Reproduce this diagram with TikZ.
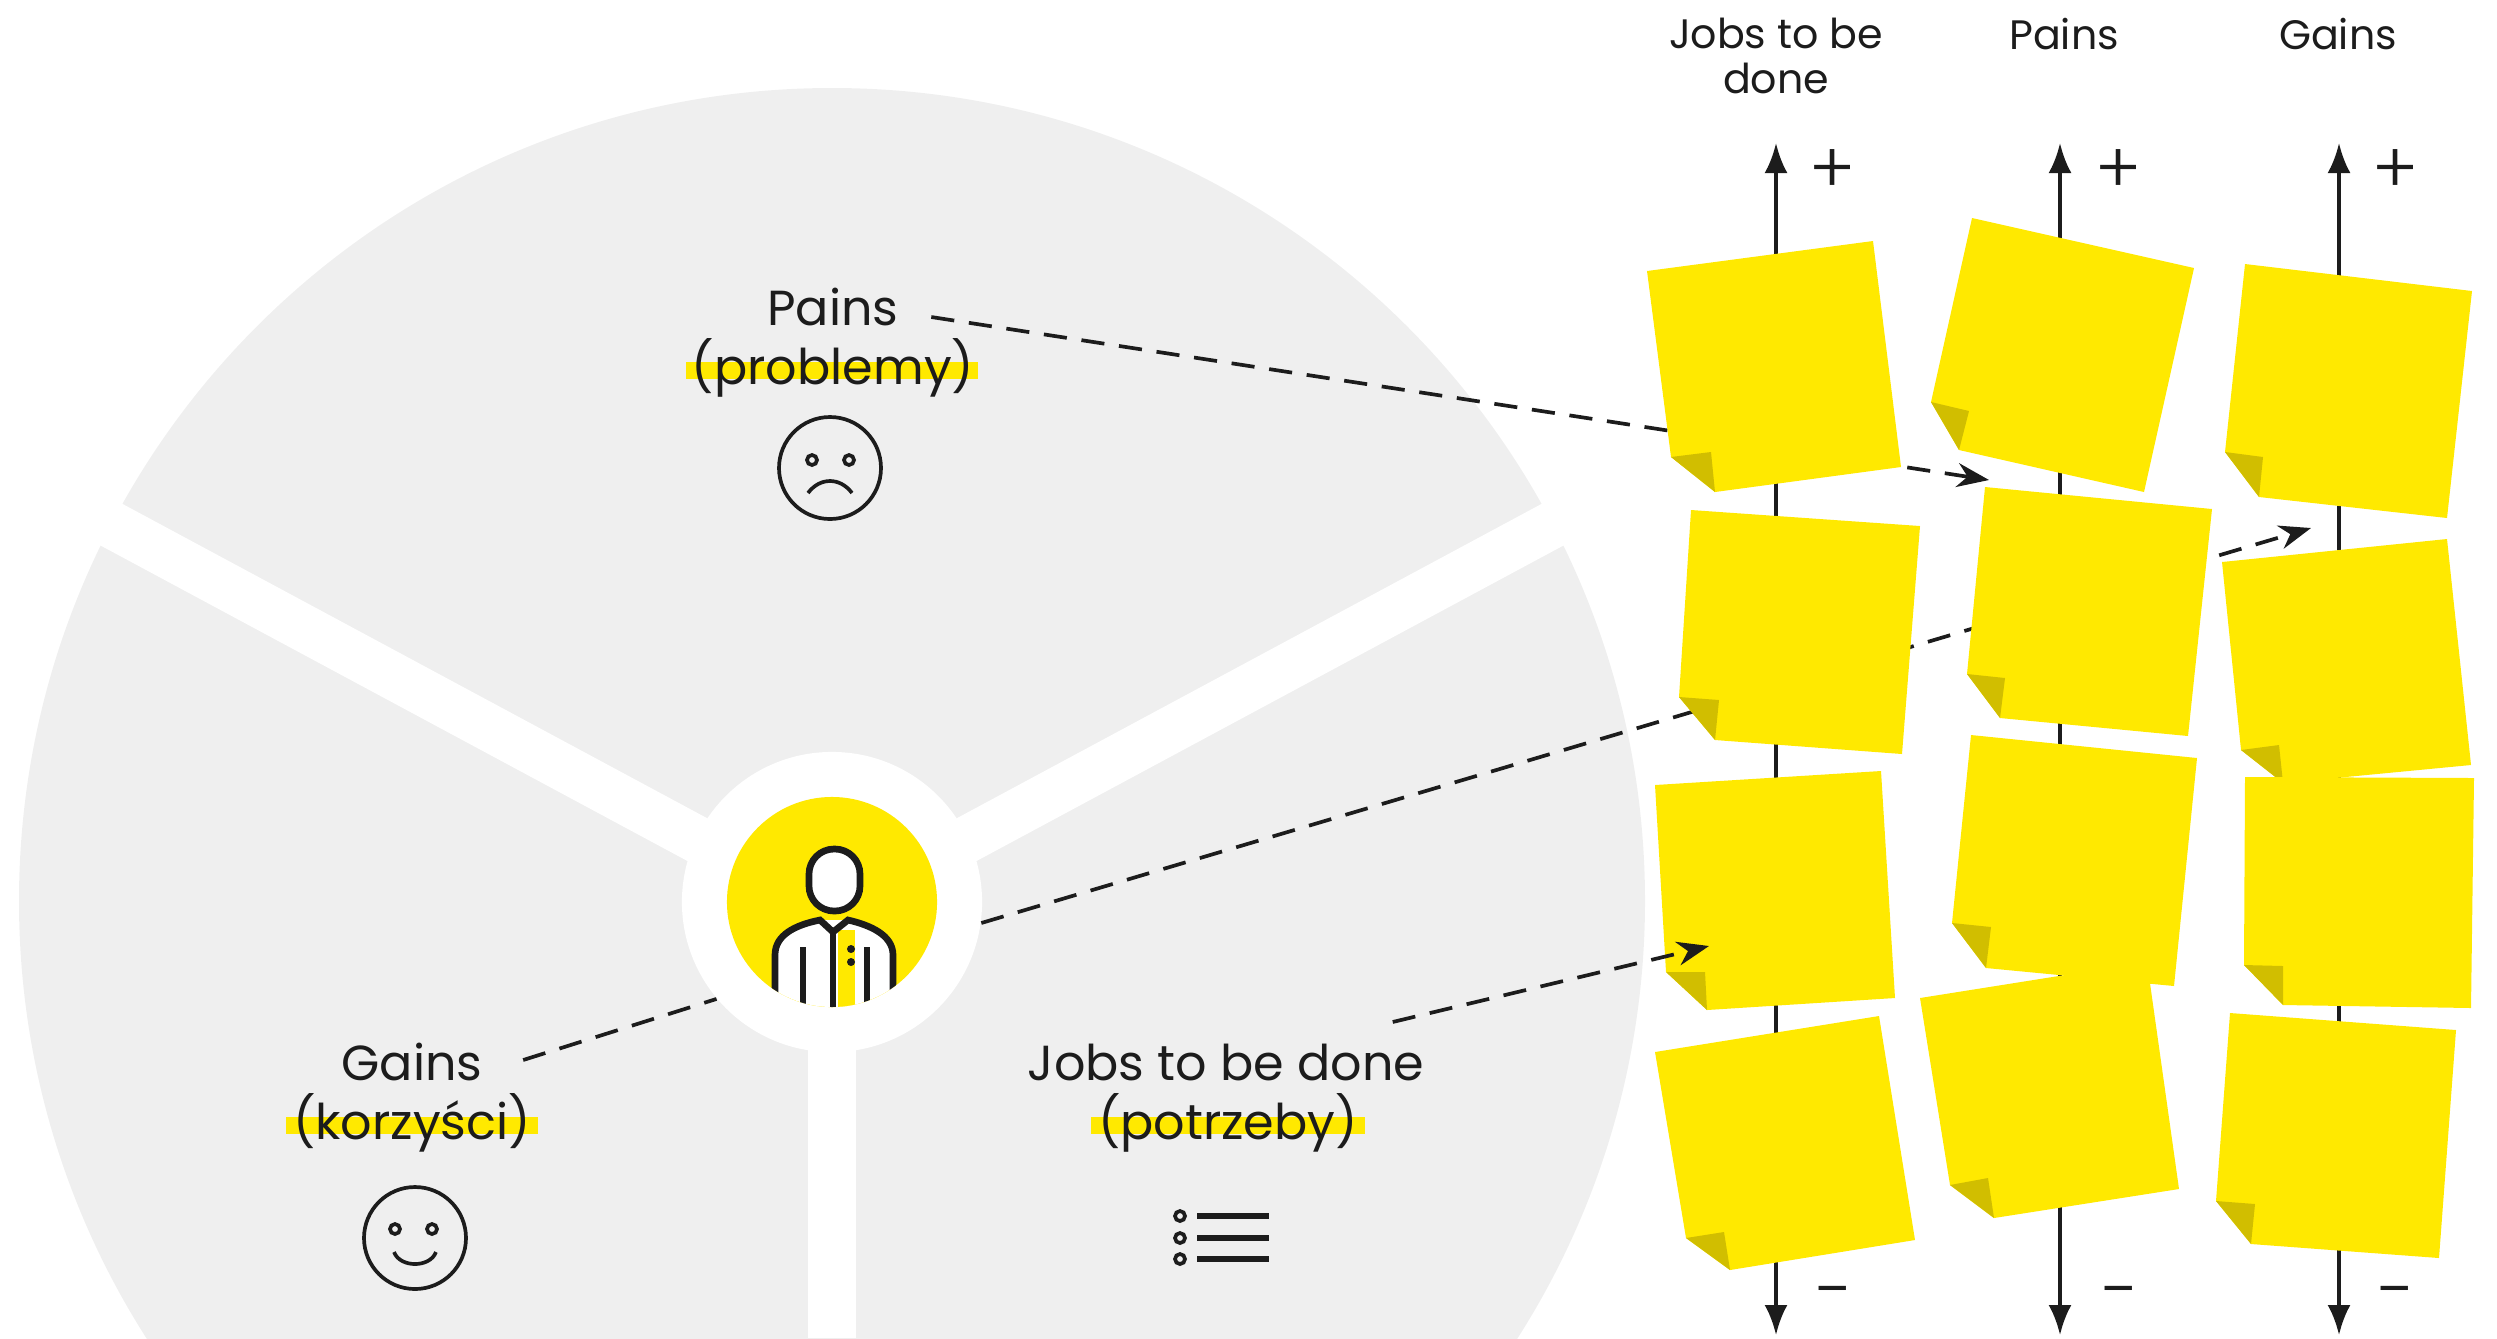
\documentclass[tikz,border=0pt]{standalone}
\usepackage{fontspec}
\setmainfont{Poppins}
\newfontfamily\signfont{Poppins Light}
\usepackage{tikz}
\usetikzlibrary{arrows.meta}
\definecolor{vpInk}{HTML}{1C1C1C}
\definecolor{vpYellow}{HTML}{FFE900}
\definecolor{vpFold}{HTML}{D1BE00}
\definecolor{vpGrey}{HTML}{EFEFEF}
\tikzset{
  vpAxis/.style={draw=vpInk,line width=1.1pt,{Latex[length=3mm,width=2.3mm]}-{Latex[length=3mm,width=2.3mm]}},
  vpLink/.style={draw=vpInk,line width=1.05pt,dash pattern=on 6.6pt off 4.2pt},
  vpTip/.style={vpLink,-{Stealth[length=3.2mm,width=2.4mm]}},
  vpIcon/.style={draw=vpInk,line width=1.05pt},
  vpHead/.style={font=\fontsize{11.7}{13}\selectfont,text=vpInk,align=center,inner sep=0pt},
  vpTitle/.style={font=\fontsize{14}{18}\selectfont,text=vpInk,inner sep=0pt},
  vpMark/.style={fill=vpYellow,minimum height=0.17cm,inner sep=0pt},
  vpSign/.style={font=\signfont\fontsize{20}{20}\selectfont,text=vpInk,inner sep=0pt}
}
% body, then the curled corner
\newcommand{\stickynote}[6]{%
  \fill[vpYellow] #1 -- #2 -- #3 -- #5 -- #4 -- cycle;
  \fill[vpFold] #4 -- #6 -- #5 -- cycle;
}
\begin{document}
\begin{tikzpicture}[x=0.01cm,y=-0.01cm]
\useasboundingbox (0,0) rectangle (2497,1338);
\begin{scope}
\clip (0,0) rectangle (2497,1338);
\fill[vpGrey] (832,901) circle[radius=813];
\draw[white,line width=0.47cm] (832,912) -- (60,497);
\draw[white,line width=0.47cm] (832,912) -- (1604,497);
\draw[white,line width=0.47cm] (832,902) -- (832,1338);
\end{scope}

% wheel labels
\node[vpMark,minimum width=2.91cm] (painsMark) at (832,370) {};
\node[vpMark,minimum width=2.52cm] (gainsMark) at (412,1125) {};
\node[vpMark,minimum width=2.73cm] (jobsMark) at (1228,1125) {};
\node[vpTitle] (painsTitle) at (833,307) {Pains};
\node[vpTitle] (painsNote) at (833,368) {(problemy)};
\node[vpTitle] (gainsTitle) at (412,1062) {Gains};
\node[vpTitle] (gainsNote) at (412,1123) {(korzyści)};
\node[vpTitle] (jobsTitle) at (1226,1062) {Jobs to be done};
\node[vpTitle] (jobsNote) at (1228,1123) {(potrzeby)};

\coordinate (painsTip) at (1989,480);
\coordinate (gainsTip) at (2311,528);
\coordinate (jobsTip) at (1709,946);

% hub
\node[circle,fill=white,minimum size=3cm,inner sep=0pt] (hubRing) at (832,902) {};
\draw[vpTip] ([xshift=3.2mm,yshift=-1mm]painsTitle.east) -- (painsTip);
\draw[vpTip] (hubRing.-8) -- (gainsTip);
\draw[vpLink] ([xshift=4mm,yshift=0.2mm]gainsTitle.east) -- (hubRing.220);
\node[circle,fill=vpYellow,minimum size=2.1cm,inner sep=0pt] (hubDisc) at (832,902) {};
\begin{scope}
\clip (832,902) circle[radius=105];
\fill[white] (775,1010) -- (775,955) .. controls (775,935) and (795,925) .. (820,920)
  -- (848,920) .. controls (870,925) and (893,935) .. (893,955) -- (893,1010) -- cycle;
\fill[vpYellow] (838,930) rectangle (855,1010);
\draw[vpInk,line width=1.9pt] (775,1010) -- (775,955) .. controls (775,935) and (795,925) .. (820,920)
  -- (833,932) -- (848,920) .. controls (870,925) and (893,935) .. (893,955) -- (893,1010);
\draw[vpInk,line width=1.9pt] (833,932) -- (833,1010);
\draw[vpInk,line width=1.9pt] (803,947) -- (803,1010);
\draw[vpInk,line width=1.9pt] (867,947) -- (867,1010);
\fill[vpInk] (851,949) circle[radius=4];
\fill[vpInk] (851,962) circle[radius=4];
\end{scope}
\draw[vpInk,fill=white,line width=1.9pt,rounded corners=0.25cm] (809,849) rectangle (860,911);

% icons
\draw[vpIcon] (830,468) circle[radius=51];
\draw[vpIcon] (812,460) circle[radius=5];
\draw[vpIcon] (849,460) circle[radius=5];
\draw[vpIcon] (808,493) .. controls (820,477) and (840,477) .. (852,493);
\draw[vpIcon] (415,1238) circle[radius=51];
\draw[vpIcon] (395,1229) circle[radius=5];
\draw[vpIcon] (432,1229) circle[radius=5];
\draw[vpIcon] (394,1252) .. controls (400,1268) and (430,1268) .. (436,1252);
\foreach \y in {1216,1238,1259}{
  \draw[vpIcon] (1180,\y) circle[radius=5];
  \draw[vpInk,line width=1.7pt] (1197,\y) -- (1269,\y);
}

% columns
\foreach \x/\name in {1776/jobs,2060/pains,2339/gains}{
  \coordinate (\name Top) at (\x,143);
  \coordinate (\name Bot) at (\x,1335);
  \draw[vpAxis] (\name Bot) -- (\name Top);
}
\node[vpHead,anchor=north] (jobsHead) at (1776,17) {Jobs to be\\done};
\node[vpHead,anchor=north] (painsHead) at (2064,17) {Pains};
\node[vpHead,anchor=north] (gainsHead) at (2338,17) {Gains};
\foreach \x/\name in {1833/jobs,2119/pains,2395/gains}{
  \node[vpSign] (\name Plus) at (\x,172) {+};
  \node[vpSign] (\name Minus) at (\x,1300) {−};
}

\stickynote{(1647,271)}{(1873,241)}{(1901,467)}{(1671,457)}{(1715,492)}{(1711,452)}
\stickynote{(1972,218)}{(2194,268)}{(2144,492)}{(1931,402)}{(1959,450)}{(1969,411)}
\stickynote{(2245,264)}{(2472,291)}{(2447,518)}{(2225,452)}{(2259,497)}{(2263,457)}
\stickynote{(1691,510)}{(1920,526)}{(1902,754)}{(1679,697)}{(1715,740)}{(1719,700)}
\stickynote{(1985,487)}{(2212,509)}{(2188,736)}{(1967,674)}{(2000,718)}{(2005,678)}
\stickynote{(2222,562)}{(2447,539)}{(2471,765)}{(2241,750)}{(2283,783)}{(2279,745)}
\stickynote{(1655,785)}{(1881,771)}{(1895,998)}{(1666,972)}{(1707,1010)}{(1705,972)}
\stickynote{(1971,735)}{(2197,758)}{(2174,986)}{(1952,923)}{(1986,968)}{(1991,927)}
\stickynote{(2245,777)}{(2474,778)}{(2471,1008)}{(2244,965)}{(2283,1005)}{(2283,966)}
\stickynote{(1655,1052)}{(1879,1016)}{(1915,1240)}{(1686,1238)}{(1730,1270)}{(1724,1232)}
\stickynote{(1920,998)}{(2147,962)}{(2179,1189)}{(1950,1185)}{(1994,1218)}{(1988,1178)}
\stickynote{(2230,1013)}{(2456,1030)}{(2439,1258)}{(2216,1201)}{(2251,1244)}{(2255,1204)}

% this one runs over the note
\draw[vpTip] ([xshift=-3.2mm,yshift=4mm]jobsTitle.east) -- (jobsTip);
\end{tikzpicture}
\end{document}
